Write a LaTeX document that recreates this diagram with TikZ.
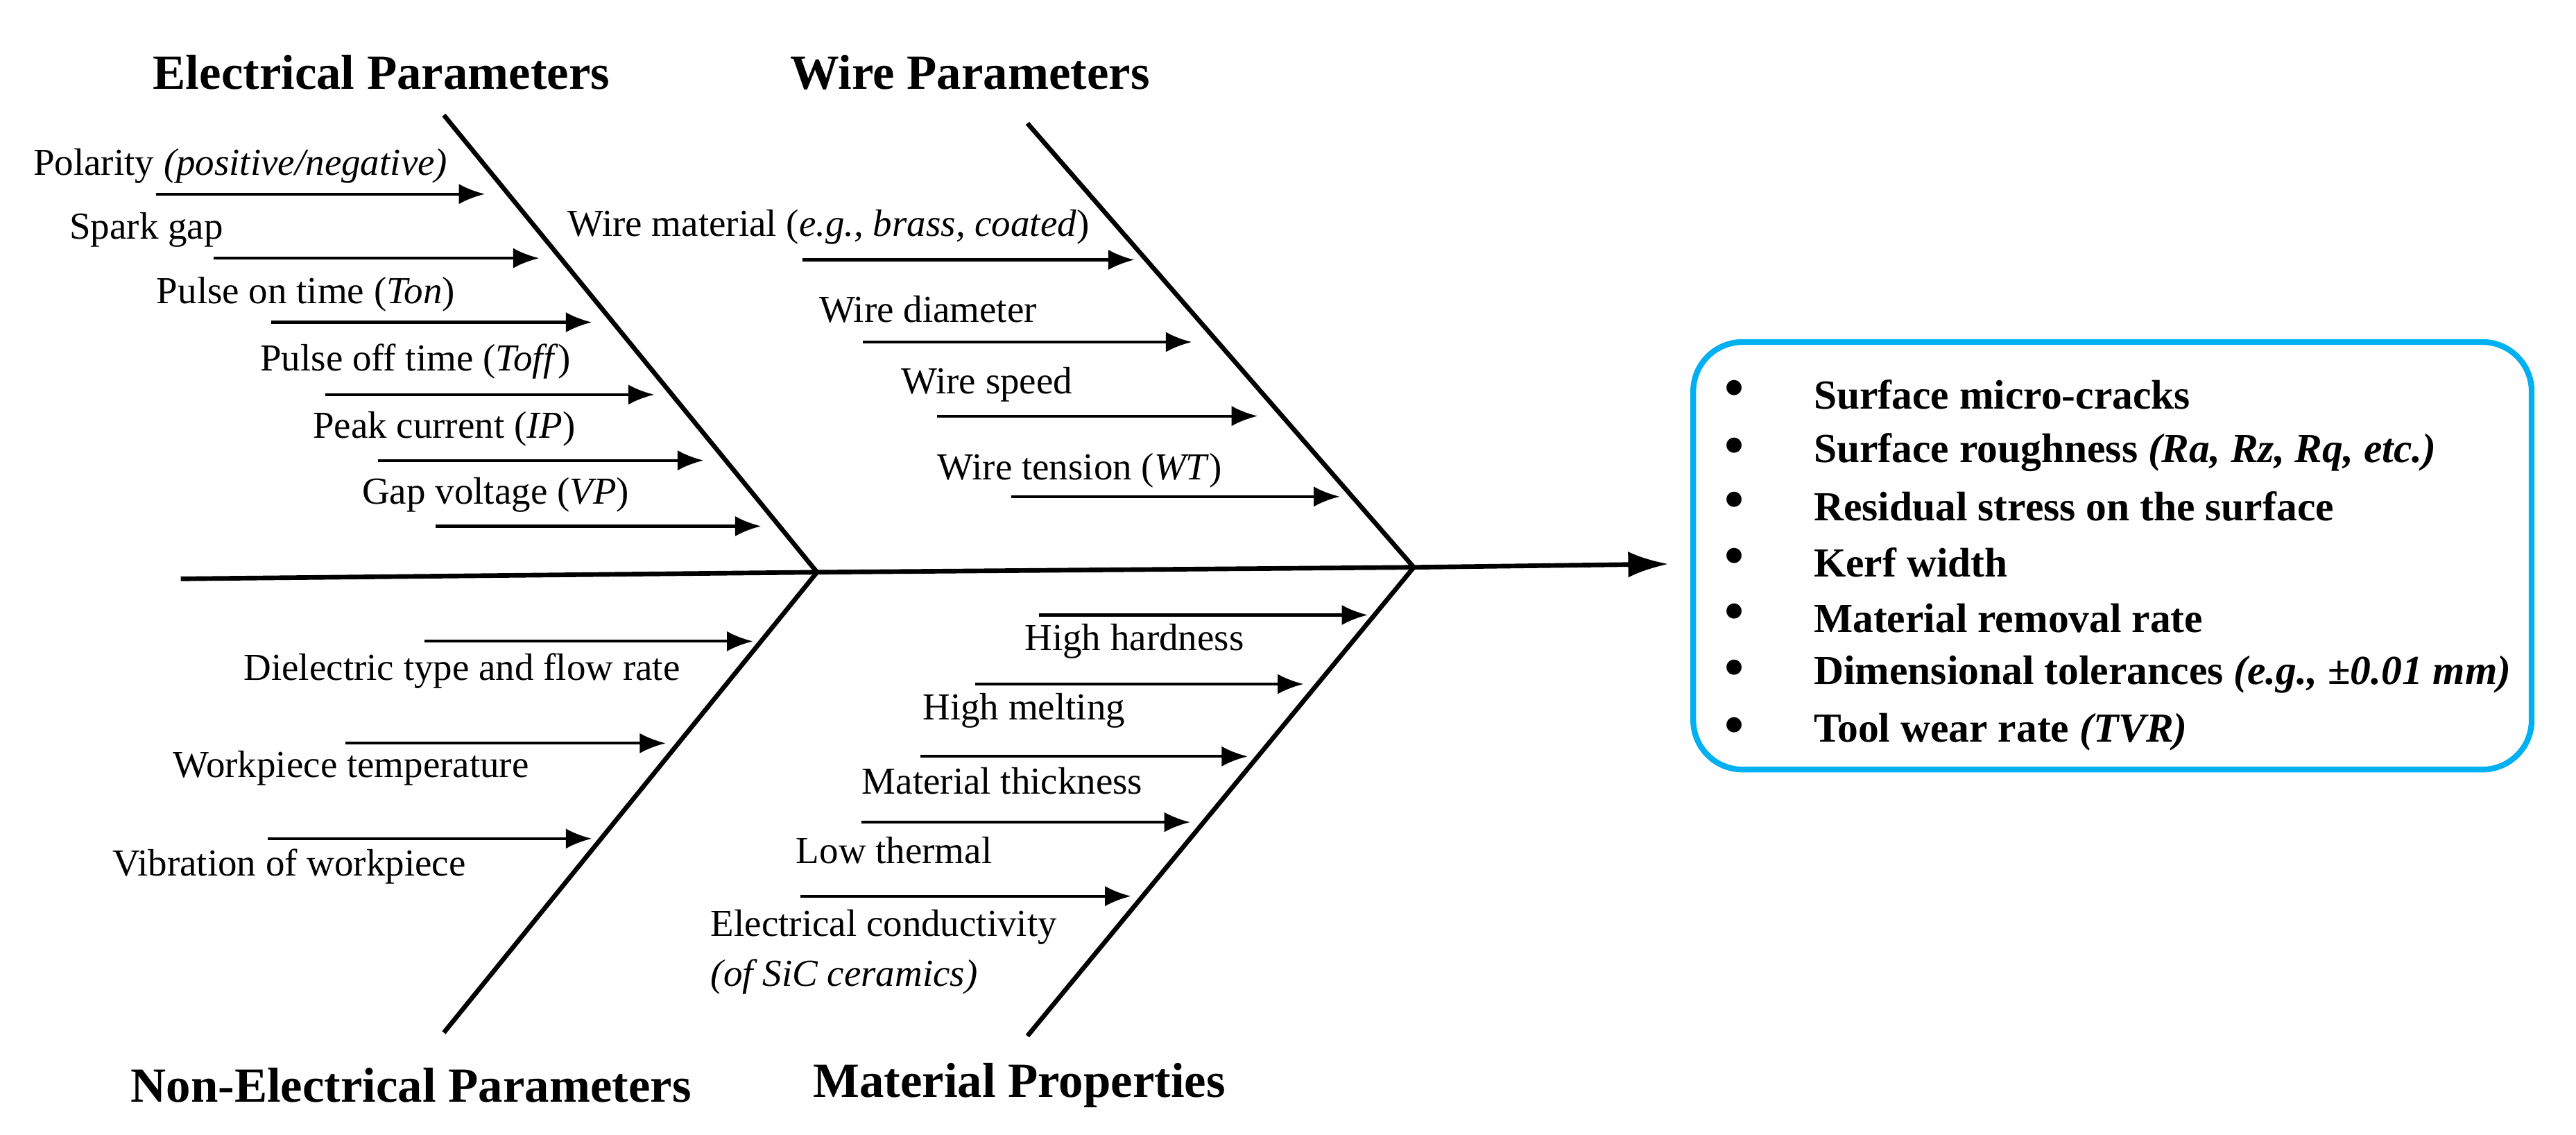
\documentclass[tikz,border=0pt]{standalone}
\usepackage{fontspec}
\setmainfont{Liberation Serif}
\usetikzlibrary{arrows.meta}
\begin{document}
\begin{tikzpicture}[x=0.02cm,y=-0.02cm,
  bone/.style={line width=1.6pt},
  arr/.style={line width=1pt,-{Latex[length=9pt,width=7pt]}},
  lab/.style={anchor=west,inner sep=0pt,font=\fontsize{13.2}{15}\selectfont},
  head/.style={inner sep=0pt,font=\fontsize{17}{20}\selectfont\bfseries},
  box/.style={anchor=west,inner sep=0pt,font=\fontsize{14.3}{17}\selectfont\bfseries}]
\useasboundingbox (0,0) rectangle (1567,690);
% spine and bones
\coordinate (s0) at (110,352); \coordinate (j1) at (497,348);
\coordinate (j2) at (860,345); \coordinate (s1) at (1015,343);
\draw[bone] (s0) -- (j1) -- (j2);
\draw[bone,-{Latex[length=14pt,width=9pt]}] (j2) -- (s1);
\coordinate (ul) at (270,70); \coordinate (ur) at (625,75);
\coordinate (ll) at (270,628); \coordinate (lr) at (625,630);
\draw[bone] (ul) -- (j1) -- (ll);
\draw[bone] (ur) -- (j2) -- (lr);
% headings
\node[head] (h1) at (232,44) {Electrical Parameters};
\node[head] (h2) at (590,44) {Wire Parameters};
\node[head] (h3) at (250,660) {Non-Electrical Parameters};
\node[head] (h4) at (620,660) {Material Properties};
% electrical
\node[lab] (e1) at (20,101) {Polarity \textit{(positive/negative)}};
\draw[arr] (95,118) -- (295,118);
\node[lab] (e2) at (42,140) {Spark gap};
\draw[arr] (130,157) -- (328,157);
\node[lab] (e3) at (95,179) {Pulse on time (\textit{Ton})};
\draw[arr] (165,196) -- (360,196);
\node[lab] (e4) at (158,220) {Pulse off time (\textit{Toff})};
\draw[arr] (198,240) -- (398,240);
\node[lab] (e5) at (190,261) {Peak current (\textit{IP})};
\draw[arr] (230,280) -- (428,280);
\node[lab] (e6) at (220,301) {Gap voltage (\textit{VP})};
\draw[arr] (265,320) -- (463,320);
% wire
\node[lab] (w1) at (345,138) {Wire material (\textit{e.g., brass, coated})};
\draw[arr] (488,158) -- (690,158);
\node[lab] (w2) at (498,188) {Wire diameter};
\draw[arr] (525,208) -- (725,208);
\node[lab] (w3) at (548,234) {Wire speed};
\draw[arr] (570,253) -- (765,253);
\node[lab] (w4) at (570,286) {Wire tension (\textit{WT})};
\draw[arr] (615,302) -- (815,302);
% non-electrical
\draw[arr] (258,390) -- (458,390);
\node[lab] (n1) at (148,408) {Dielectric type and flow rate};
\draw[arr] (210,452) -- (405,452);
\node[lab] (n2) at (105,467) {Workpiece temperature};
\draw[arr] (163,510) -- (360,510);
\node[lab] (n3) at (68,527) {Vibration of workpiece};
% material
\draw[arr] (632,374) -- (832,374);
\node[lab] (m1) at (623,390) {High hardness};
\draw[arr] (593,416) -- (793,416);
\node[lab] (m2) at (561,432) {High melting};
\draw[arr] (560,460) -- (759,460);
\node[lab] (m3) at (524,475) {Material thickness};
\draw[arr] (524,500) -- (724,500);
\node[lab] (m4) at (484,517) {Low thermal};
\draw[arr] (487,545) -- (688,545);
\node[lab] (m5) at (432,564) {Electrical conductivity};
\node[lab] (m6) at (432,594) {\textit{(of SiC ceramics)}};
% outcome box
\draw[line width=2pt,draw={rgb,255:red,0;green,176;blue,240},rounded corners=0.6cm] (1030,208) rectangle (1540,468);
\foreach \y/\t [count=\i] in {240/{Surface micro-cracks},275/{Surface roughness \textit{(Ra, Rz, Rq, etc.)}},308/{Residual stress on the surface},342/{Kerf width},376/{Material removal rate},410/{Dimensional tolerances \textit{(e.g., ±0.01 mm)}},445/{Tool wear rate \textit{(TVR)}}}{
  \node[box] (b\i) at (1103,\y) {\t};
  \node[anchor=center,inner sep=0pt] (d\i) at (1055,\y) {\fontsize{22}{22}\selectfont\textbullet};
}
\end{tikzpicture}
\end{document}
